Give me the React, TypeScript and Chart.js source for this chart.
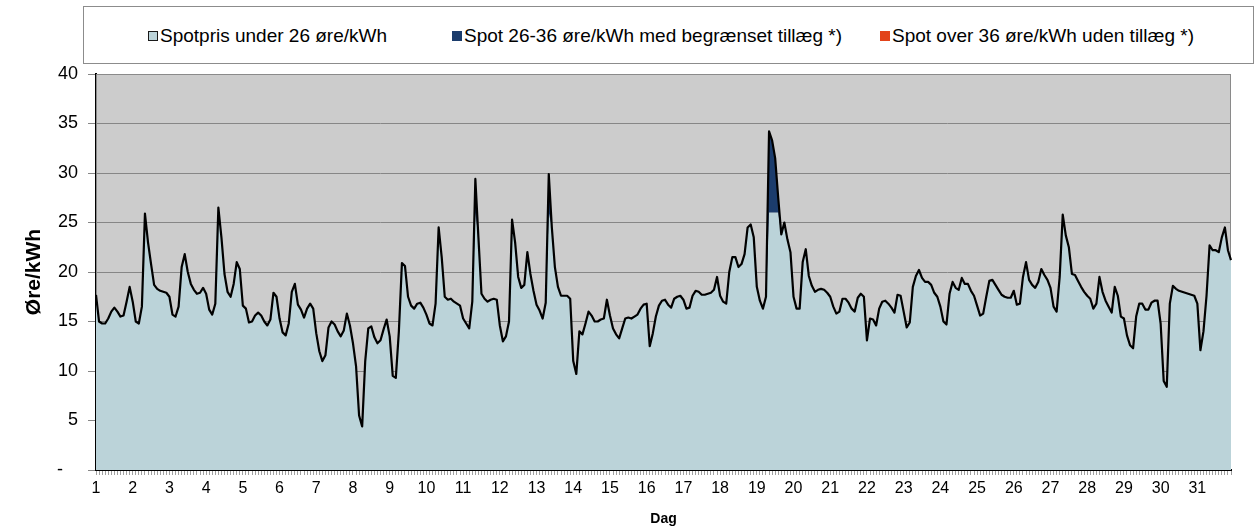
import React, { useEffect, useRef } from "react";
import { Chart, registerables } from "chart.js";

Chart.register(...registerables);

// Tick labels (one per day; data points are every 2 hours => 12 points per day)
const dayLabels: string[] = [
  "1", "2", "3", "4", "5", "6", "7", "8", "9", "10", "11", "12", "13", "14", "15", "16",
  "17", "18", "19", "20", "21", "22", "23", "24", "25", "26", "27", "28", "29", "30", "31",
];
const pointsPerDay = 12;

// Spot price, øre/kWh, read every 2 hours
const spotPrices: number[] = [
  17.7, 15.0, 14.8, 14.8, 15.3, 16.0, 16.4, 16.0, 15.5, 15.6, 17.0, 18.5,
  17.0, 15.0, 14.8, 16.5, 25.9, 23.0, 20.8, 18.7, 18.3, 18.1, 18.0, 17.9,
  17.5, 15.7, 15.5, 16.5, 20.5, 21.8, 20.0, 18.8, 18.2, 17.8, 17.9, 18.4,
  17.8, 16.2, 15.7, 16.8, 26.5, 23.5, 19.8, 18.0, 17.5, 18.8, 21.0, 20.3,
  16.6, 16.3, 14.9, 15.0, 15.6, 15.9, 15.6, 15.0, 14.6, 15.2, 17.9, 17.5,
  15.3, 13.9, 13.6, 14.8, 18.0, 18.8, 16.7, 16.2, 15.4, 16.3, 16.8, 16.3,
  13.8, 12.0, 11.0, 11.6, 14.4, 15.0, 14.7, 14.0, 13.5, 14.1, 15.8, 14.6,
  12.8, 10.5, 5.5, 4.4, 11.0, 14.3, 14.5, 13.4, 12.8, 13.1, 14.2, 15.2,
  13.5, 9.5, 9.3, 14.0, 20.9, 20.6, 17.5, 16.6, 16.3, 16.8, 16.9, 16.4,
  15.7, 14.8, 14.6, 16.8, 24.5, 21.5, 17.5, 17.2, 17.3, 17.0, 16.8, 16.6,
  15.3, 14.8, 14.3, 17.0, 29.4, 23.5, 17.8, 17.3, 17.0, 17.2, 17.3, 17.2,
  14.6, 13.0, 13.5, 15.0, 25.3, 23.0, 19.5, 18.4, 18.7, 22.0, 19.8, 18.1,
  16.7, 16.1, 15.3, 16.9, 29.9, 24.5, 20.5, 18.5, 17.6, 17.6, 17.6, 17.3,
  11.0, 9.7, 14.0, 13.7, 14.8, 16.0, 15.6, 15.0, 15.0, 15.2, 15.3, 17.2,
  15.6, 14.3, 13.7, 13.3, 14.3, 15.3, 15.4, 15.3, 15.5, 15.7, 16.3, 16.7,
  16.8, 12.5, 13.8, 15.5, 16.6, 17.1, 17.2, 16.7, 16.4, 17.3, 17.5, 17.6,
  17.2, 16.3, 16.4, 17.6, 18.1, 18.0, 17.7, 17.7, 17.8, 17.9, 18.2, 19.5,
  17.6, 17.0, 16.8, 20.0, 21.5, 21.5, 20.5, 20.8, 21.8, 24.5, 24.8, 23.5,
  18.5, 17.1, 16.3, 17.5, 34.2, 33.3, 31.5, 27.5, 23.8, 25.0, 23.3, 22.0,
  17.5, 16.3, 16.3, 21.0, 22.3, 19.6, 18.6, 18.0, 18.2, 18.3, 18.2, 17.9,
  17.5, 16.5, 15.8, 16.0, 17.3, 17.3, 16.9, 16.3, 16.0, 17.4, 17.8, 17.5,
  13.1, 15.3, 15.2, 14.6, 16.3, 17.0, 17.1, 16.8, 16.4, 15.9, 17.7, 17.6,
  16.0, 14.4, 14.9, 18.5, 19.6, 20.2, 19.4, 19.0, 19.0, 18.7, 17.9, 17.5,
  16.5, 15.0, 14.7, 17.8, 19.0, 18.4, 18.2, 19.4, 18.8, 18.8, 18.1, 17.6,
  16.6, 15.6, 15.8, 17.5, 19.1, 19.2, 18.7, 18.2, 17.7, 17.5, 17.4, 17.4,
  18.1, 16.7, 16.8, 19.5, 21.0, 19.2, 18.7, 18.4, 19.0, 20.3, 19.7, 19.2,
  18.4, 16.5, 16.0, 19.5, 25.8, 23.7, 22.5, 19.8, 19.7, 19.1, 18.5, 18.0,
  17.6, 17.3, 16.3, 16.8, 19.5, 18.0, 17.1, 16.5, 15.9, 18.5, 17.6, 15.5,
  15.3, 13.6, 12.6, 12.3, 15.5, 16.8, 16.8, 16.2, 16.2, 16.9, 17.1, 17.1,
  14.8, 9.0, 8.4, 16.8, 18.6, 18.3, 18.1, 18.0, 17.9, 17.8, 17.7, 17.6,
  16.8, 12.1, 14.0, 17.6, 22.7, 22.2, 22.2, 22.0, 23.5, 24.5, 22.2, 21.2,
];

const lowCap = 26;
const midCap = 36;

const seriesNames: string[] = [
  "Spotpris under 26 øre/kWh",
  "Spot 26-36 øre/kWh med begrænset tillæg *)",
  "Spot over 36 øre/kWh uden tillæg *)",
];
const seriesColors: string[] = ["#BBD3D9", "#1B3C6C", "#E2431A"];

const FONT = "'Liberation Sans', Arial, sans-serif";

const plotFrame = {
  id: "plotFrame",
  beforeDraw(chart: any) {
    const { ctx, chartArea } = chart;
    ctx.save();
    ctx.fillStyle = "#CCCCCC";
    ctx.fillRect(chartArea.left, chartArea.top, chartArea.right - chartArea.left, chartArea.bottom - chartArea.top);
    ctx.restore();
  },
  beforeDatasetsDraw(chart: any) {
    const { ctx, chartArea } = chart;
    ctx.save();
    ctx.strokeStyle = "#8A8A8A";
    ctx.lineWidth = 1;
    ctx.strokeRect(chartArea.left + 0.5, chartArea.top + 0.5, chartArea.right - chartArea.left - 1, chartArea.bottom - chartArea.top - 1);
    ctx.restore();
  },
};

export default function App() {
  const canvasRef = useRef<HTMLCanvasElement | null>(null);

  useEffect(() => {
    if (!canvasRef.current) return;
    const labels = spotPrices.map((_, i) => (i % pointsPerDay === 0 ? dayLabels[i / pointsPerDay] : ""));
    const under = spotPrices.map((v) => Math.min(v, lowCap));
    const middle = spotPrices.map((v) => Math.min(v, midCap));
    const over = spotPrices.slice();

    const chart = new Chart(canvasRef.current, {
      type: "line",
      data: {
        labels,
        datasets: [
          { label: seriesNames[0], data: under, fill: "origin", backgroundColor: seriesColors[0], borderWidth: 0, pointRadius: 0, order: 3 },
          { label: seriesNames[1], data: middle, fill: "-1", backgroundColor: seriesColors[1], borderWidth: 0, pointRadius: 0, order: 2 },
          { label: seriesNames[2], data: over, fill: "-1", backgroundColor: seriesColors[2], borderWidth: 0, pointRadius: 0, order: 1 },
          { label: "line", data: spotPrices, fill: false, borderColor: "#000000", borderWidth: 2.2, pointRadius: 0, borderJoinStyle: "round", order: 0 },
        ],
      },
      options: {
        animation: false,
        responsive: false,
        maintainAspectRatio: false,
        events: [],
        layout: { padding: { top: 74, right: 26, left: 0, bottom: 0 } },
        elements: { line: { tension: 0 } },
        plugins: { legend: { display: false }, tooltip: { enabled: false } },
        scales: {
          x: {
            type: "category",
            offset: false,
            grid: { display: true, drawOnChartArea: false, drawTicks: true, tickLength: 5, color: "#A0A0A0", lineWidth: 1 },
            border: { display: true, color: "#000000", width: 2 },
            ticks: {
              autoSkip: false,
              maxRotation: 0,
              minRotation: 0,
              padding: 4,
              color: "#000000",
              font: { family: FONT, size: 16 },
              callback: (_v: any, i: number) => labels[i],
            },
            title: { display: true, text: "Dag", color: "#000000", font: { family: FONT, size: 14, weight: "bold" }, padding: { top: 0, bottom: 2 } },
            afterFit: (s: any) => {
              s.height = 60;
            },
          },
          y: {
            min: 0,
            max: 40,
            grid: { color: "#868686", lineWidth: 1, drawTicks: true, tickLength: 8 },
            border: { display: true, color: "#000000", width: 2 },
            ticks: {
              stepSize: 5,
              padding: 10,
              color: "#000000",
              font: { family: FONT, size: 18 },
              callback: (v: any) => (Number(v) === 0 ? "-   " : String(v)),
            },
            title: { display: true, text: "Øre/kWh", color: "#000000", font: { family: FONT, size: 21, weight: "bold" }, padding: { top: 22, bottom: 0 } },
            afterFit: (s: any) => {
              s.width = 96;
            },
          },
        },
      },
      plugins: [plotFrame],
    } as any);

    return () => chart.destroy();
  }, []);

  const legendLefts = [148, 452, 880];

  return (
    <div style={{ position: "absolute", left: 0, top: 0, width: 1257, height: 530, background: "#FFFFFF", fontFamily: FONT }}>
      <canvas ref={canvasRef} width={1257} height={530} style={{ position: "absolute", left: 0, top: 0, width: 1257, height: 530 }} />
      <div
        style={{
          position: "absolute",
          left: 83,
          top: 6,
          width: 1171,
          height: 58,
          border: "1px solid #8C8C8C",
          boxSizing: "border-box",
          background: "#FFFFFF",
        }}
      />
      {seriesNames.map((name, i) => (
        <div
          key={name}
          style={{
            position: "absolute",
            left: legendLefts[i],
            top: 36,
            transform: "translateY(-50%)",
            display: "flex",
            alignItems: "center",
            whiteSpace: "nowrap",
            fontSize: 19,
            color: "#000000",
          }}
        >
          <span
            style={{
              display: "inline-block",
              width: 10,
              height: 10,
              boxSizing: "border-box",
              background: seriesColors[i],
              border: i === 0 ? "1.5px solid #1A1A1A" : "1px solid " + seriesColors[i],
              marginRight: 2,
            }}
          />
          <span>{name}</span>
        </div>
      ))}
    </div>
  );
}
